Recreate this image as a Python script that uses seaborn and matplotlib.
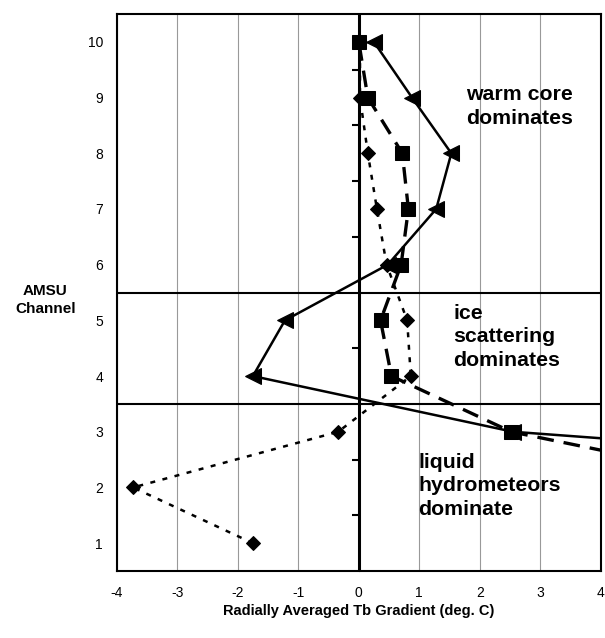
import numpy as np
import pandas as pd
import matplotlib
matplotlib.use('Agg')
import matplotlib.pyplot as plt
import seaborn as sns

# AMSU channels 1..10
channels = [1, 2, 3, 4, 5, 6, 7, 8, 9, 10]

# radially averaged Tb gradient (deg C)
# (values beyond +4 run off the right edge of the plot)
triangle_vals = [np.nan, 15.0, 2.55, -1.75, -1.22, 0.48, 1.28, 1.53, 0.88, 0.25]
square_vals = [np.nan, 7.0, 2.52, 0.54, 0.36, 0.70, 0.82, 0.72, 0.15, 0.0]
diamond_vals = [-1.75, -3.73, -0.34, 0.86, 0.80, 0.46, 0.30, 0.15, 0.02, 0.02]

xticks = [-4, -3, -2, -1, 0, 1, 2, 3, 4]

sns.set_style('white')
plt.rcParams['font.family'] = ['Liberation Sans', 'DejaVu Sans']
plt.rcParams['text.color'] = 'black'
plt.rcParams['axes.labelcolor'] = 'black'
plt.rcParams['xtick.color'] = 'black'
plt.rcParams['ytick.color'] = 'black'

fig = plt.figure(figsize=(6.05, 6.38), dpi=100)
ax = fig.add_axes([0.193, 0.105, 0.8, 0.873])

tri = pd.DataFrame({'x': triangle_vals, 'ch': channels}).dropna()
sq = pd.DataFrame({'x': square_vals, 'ch': channels}).dropna()
dia = pd.DataFrame({'x': diamond_vals, 'ch': channels}).dropna()

sns.lineplot(data=dia, x='x', y='ch', sort=False, estimator=None, ax=ax,
             color='black', lw=1.8, linestyle=(0, (2, 3)),
             marker='D', markersize=7.5, markeredgecolor='black', zorder=3)
sns.lineplot(data=sq, x='x', y='ch', sort=False, estimator=None, ax=ax,
             color='black', lw=2.4, linestyle=(0, (5, 3)),
             marker='s', markersize=9.5, markeredgecolor='black', zorder=4)
sns.lineplot(data=tri, x='x', y='ch', sort=False, estimator=None, ax=ax,
             color='black', lw=1.8, linestyle='-',
             marker='<', markersize=11, markeredgecolor='black', zorder=5)

ax.set_xlim(-4, 4)
ax.set_ylim(0.5, 10.5)
ax.set_xticks(xticks)
ax.set_xticklabels([str(v) for v in xticks])
ax.set_yticks(channels)
ax.set_yticklabels([str(c) for c in channels])
ax.tick_params(axis='y', length=0, pad=10, labelsize=10)
ax.tick_params(axis='x', length=3, width=1, direction='out', pad=8, labelsize=10)

# vertical grid only
ax.grid(axis='x', color='#999999', lw=0.8)
ax.grid(axis='y', visible=False)
for s in ax.spines.values():
    s.set_color('black')
    s.set_linewidth(1.5)

# region separators and zero axis
ax.axhline(3.5, color='black', lw=1.5, zorder=2)
ax.axhline(5.5, color='black', lw=1.5, zorder=2)
ax.axvline(0, color='black', lw=2.2, zorder=2)

# minor ticks on the zero axis between channels (pointing left)
sec = ax.secondary_yaxis(0.5)
sec.set_yticks([1.5, 2.5, 4.5, 6.5, 7.5, 8.5, 9.5])
sec.set_yticklabels([])
sec.tick_params(axis='y', direction='in', length=5, width=1.5)
sec.spines['left'].set_linewidth(2.2)
sec.spines['left'].set_color('black')

ax.set_xlabel('Radially Averaged Tb Gradient (deg. C)', fontsize=10.5,
              fontweight='bold', labelpad=3)
ax.set_ylabel('')
fig.text(0.075, 0.53, 'AMSU\nChannel', ha='center', va='center',
         fontsize=11, fontweight='bold', linespacing=1.3)

ax.text(1.78, 9.22, 'warm core\ndominates', ha='left', va='top',
        fontsize=15.3, fontweight='bold', linespacing=1.3)
ax.text(1.56, 5.3, 'ice\nscattering\ndominates', ha='left', va='top',
        fontsize=15.3, fontweight='bold', linespacing=1.3)
ax.text(0.98, 2.62, 'liquid\nhydrometeors\ndominate', ha='left', va='top',
        fontsize=15.3, fontweight='bold', linespacing=1.3)

fig.savefig('out.png', dpi=100)
